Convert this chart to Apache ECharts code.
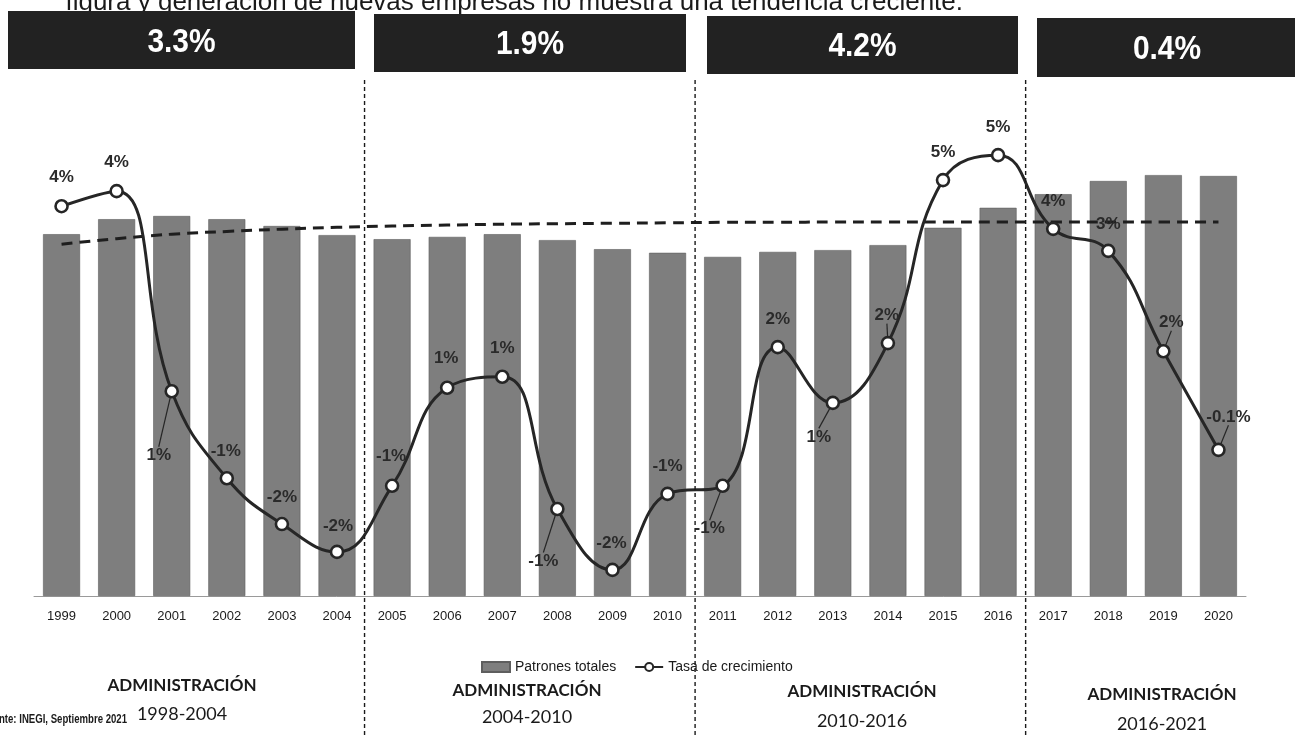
<!DOCTYPE html>
<html>
<head>
<meta charset="utf-8">
<script src="https://cdn.jsdelivr.net/npm/echarts@6/dist/echarts.min.js"></script>
<style>
html,body{margin:0;padding:0;background:#fff;}
#chart{width:1295px;height:737px;}
</style>
</head>
<body>
<div id="chart"></div>
<script>
// ---------- DATA ----------
const years = ['1999','2000','2001','2002','2003','2004','2005','2006','2007','2008','2009',
               '2010','2011','2012','2013','2014','2015','2016','2017','2018','2019','2020'];
// Patrones totales (miles, estimado de la altura de las barras)
const patronesTotales = [796, 829, 836, 829, 814, 794, 785, 790, 796, 783, 763,
                         755, 746, 757, 761, 772, 810, 854, 884, 913, 926, 924];
// Tasa de crecimiento (%)
const tasaCrecimiento = [4.10, 4.36, 0.91, -0.59, -1.38, -1.86, -0.72, 0.97, 1.16, -1.12, -2.17,
                         -0.86, -0.72, 1.67, 0.71, 1.74, 4.55, 4.98, 3.71, 3.33, 1.60, -0.10];
const etiquetasTasa = ['4%','4%','1%','-1%','-2%','-2%','-1%','1%','1%','-1%','-2%',
                       '-1%','-1%','2%','1%','2%','5%','5%','4%','3%','2%','-0.1%'];
// Línea de tendencia (mismas unidades que las barras)
const tendencia = [774, 786, 796, 802, 807, 811, 814, 816, 818, 819, 820,
                   821, 822, 822, 823, 823, 823, 823, 823, 823, 823, 823];
// Promedio por administración
const promedioAdmin = ['3.3%', '1.9%', '4.2%', '0.4%'];
const administraciones = ['1998-2004', '2004-2010', '2010-2016', '2016-2021'];
const limitesAdmin = [['2004','2005'], ['2010','2011'], ['2016','2017']];
const titulo = 'figura y generación de nuevas empresas no muestra una tendencia creciente.';
const fuente = 'Fuente: INEGI, Septiembre 2021';

// ---------- LAYOUT (label offsets, leader lines) ----------
const labelOffsets = [[0,-29],[0,-29],[-13,64],[-1,-27],[0,-27],[1,-26],[-1,-29],[-1,-29],[0,-28],[-14,52],[-1,-27],
                      [0,-28],[-13,43],[0,-28],[-14,34],[-1,-28],[0,-28],[0,-28],[0,-28],[0,-27],[8,-29],[10,-33]];
const leaderLines = [false,false,true,false,false,false,false,false,false,true,false,
                     false,true,false,true,true,false,false,false,false,true,true];

const SANS = "'Liberation Sans',Arial,sans-serif";
const GEO = "Lato,'Noto Sans',sans-serif";
const INK = '#262626';

const chart = echarts.init(document.getElementById('chart'), null, {renderer:'canvas'});

const lineData = tasaCrecimiento.map((v, i) => ({
  value: v,
  label: { formatter: etiquetasTasa[i] },
  labelLine: { show: leaderLines[i], lineStyle: { color: INK, width: 1.2 } }
}));

const option = {
  backgroundColor: '#ffffff',
  animation: false,
  grid: { left: 34, right: 49, top: 96, bottom: 141, containLabel: false },
  legend: {
    left: 476, top: 655,
    itemWidth: 28, itemHeight: 10, itemGap: 18,
    data: [{ name: 'Patrones totales', icon: 'rect' }, { name: 'Tasa de crecimiento' }],
    textStyle: { fontFamily: SANS, fontSize: 14, color: '#1a1a1a' }
  },
  xAxis: {
    type: 'category',
    data: years,
    axisLine: { show: true, lineStyle: { color: '#9a9a9a', width: 1 } },
    axisTick: { show: false },
    axisLabel: { fontFamily: SANS, fontSize: 13, color: '#1a1a1a', margin: 14 }
  },
  yAxis: [
    { type: 'value', min: 0, max: 1100, show: false, splitLine: { show: false } },
    { type: 'value', min: -2.62, max: 6.0, show: false, splitLine: { show: false } }
  ],
  series: [
    {
      name: 'Patrones totales',
      type: 'bar',
      data: patronesTotales,
      barWidth: 37,
      itemStyle: { color: '#7e7e7e', borderColor: '#5e5e5e', borderWidth: 0.6 },
      z: 2
    },
    {
      name: 'Tendencia',
      type: 'line',
      data: tendencia,
      smooth: true,
      symbol: 'none',
      lineStyle: { color: '#1e1e1e', width: 3, type: [11, 7] },
      z: 3,
      silent: true
    },
    {
      name: 'Tasa de crecimiento',
      type: 'line',
      yAxisIndex: 1,
      data: lineData,
      smooth: 0.45,
      symbol: 'circle',
      symbolSize: 12,
      itemStyle: { color: '#ffffff', borderColor: INK, borderWidth: 2.6 },
      lineStyle: { color: INK, width: 3 },
      label: {
        show: true,
        position: 'inside',
        fontFamily: SANS,
        fontWeight: 'bold',
        fontSize: 17,
        color: '#2a2a2a'
      },
      labelLayout: function (p) {
        const o = labelOffsets[p.dataIndex];
        return { dx: o[0], dy: o[1] };
      },
      z: 5
    }
  ]
};

chart.setOption(option);

// ---------- decorations positioned from the axis ----------
const xPix = (c) => chart.convertToPixel({ xAxisIndex: 0 }, c);
const dividers = limitesAdmin.map(([a, b]) => (xPix(a) + xPix(b)) / 2);

const banners = [
  { x1: 8,    x2: 355,  y1: 11, y2: 69, ty: 43 },
  { x1: 374,  x2: 686,  y1: 14, y2: 72, ty: 45 },
  { x1: 707,  x2: 1018, y1: 16, y2: 74, ty: 47 },
  { x1: 1037, x2: 1297, y1: 18, y2: 77, ty: 50 }
];
const adminPos = [
  { x: 182,  y1: 686, y2: 714 },
  { x: 527,  y1: 691, y2: 717 },
  { x: 862,  y1: 692, y2: 721 },
  { x: 1162, y1: 695, y2: 724 }
];

const graphics = [];
// title (cut at top)
graphics.push({
  type: 'text', x: 963, y: 3, z: 8,
  style: { text: titulo, fontFamily: SANS, fontSize: 26,
           fill: '#1a1a1a', textAlign: 'right', textVerticalAlign: 'middle' }
});
banners.forEach((b, i) => {
  graphics.push({
    type: 'rect', z: 10,
    shape: { x: b.x1, y: b.y1, width: b.x2 - b.x1, height: b.y2 - b.y1 },
    style: { fill: '#222222' }
  });
  graphics.push({
    type: 'text', z: 11, x: (b.x1 + b.x2) / 2, y: b.ty, scaleX: 0.88,
    style: { text: promedioAdmin[i], fontFamily: SANS, fontWeight: 'bold', fontSize: 34,
             fill: '#ffffff', textAlign: 'center', textVerticalAlign: 'middle' }
  });
});
dividers.forEach((x) => {
  graphics.push({
    type: 'line', z: 9,
    shape: { x1: x, y1: 80, x2: x, y2: 737 },
    style: { stroke: '#1a1a1a', lineWidth: 1.4, lineDash: [4, 3] }
  });
});
adminPos.forEach((p, i) => {
  graphics.push({
    type: 'text', z: 10, x: p.x, y: p.y1,
    style: { text: 'ADMINISTRACIÓN', fontFamily: GEO, fontWeight: 'bold', fontSize: 17,
             fill: '#1a1a1a', textAlign: 'center', textVerticalAlign: 'middle' }
  });
  graphics.push({
    type: 'text', z: 10, x: p.x, y: p.y2,
    style: { text: administraciones[i], fontFamily: GEO, fontSize: 18,
             fill: '#1a1a1a', textAlign: 'center', textVerticalAlign: 'middle' }
  });
});
graphics.push({
  type: 'text', z: 10, x: 127, y: 720, scaleX: 0.8,
  style: { text: fuente, fontFamily: SANS, fontSize: 12, fontWeight: 'bold',
           fill: '#1a1a1a', textAlign: 'right', textVerticalAlign: 'middle' }
});

chart.setOption({ graphic: graphics });
</script>
</body>
</html>
